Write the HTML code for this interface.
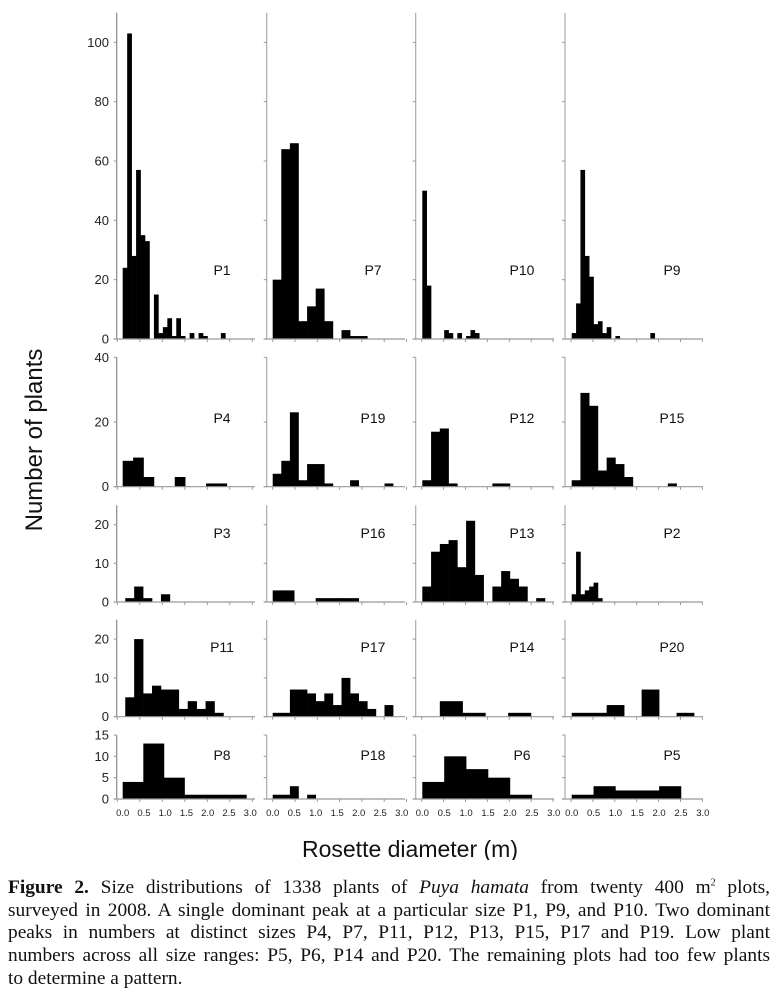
<!DOCTYPE html>
<html><head><meta charset="utf-8"><style>
html,body{margin:0;padding:0;background:#fff;}
body{width:776px;height:1001px;position:relative;overflow:hidden;}
#chart{position:absolute;left:0;top:0;}
#caption{position:absolute;left:8px;top:877px;width:762px;font-family:"Liberation Serif",serif;font-size:19.4px;line-height:22.7px;color:#111;}
#caption .ln{text-align:justify;text-align-last:justify;white-space:nowrap;}
#caption .last{text-align:left;text-align-last:left;}
</style></head><body>
<svg id="chart" width="776" height="860" xmlns="http://www.w3.org/2000/svg" font-family="Liberation Sans, sans-serif"></svg>
<div id="caption">
<div class="ln"><b>Figure 2.</b> Size distributions of 1338 plants of <i>Puya hamata</i> from twenty 400 m<sup style="font-size:10px;line-height:0">2</sup> plots,</div>
<div class="ln">surveyed in 2008. A single dominant peak at a particular size P1, P9, and P10. Two dominant</div>
<div class="ln">peaks in numbers at distinct sizes P4, P7, P11, P12, P13, P15, P17 and P19. Low plant</div>
<div class="ln">numbers across all size ranges: P5, P6, P14 and P20. The remaining plots had too few plants</div>
<div class="ln last">to determine a pattern.</div>
</div>
<script>
// panel names (row-major, 4 columns)
const panelNames = ["P1","P7","P10","P9","P4","P19","P12","P15","P3","P16","P13","P2","P11","P17","P14","P20","P8","P18","P6","P5"];
// counts per bin
const cP1 = [24,103,28,57,35,33,0,15,2,4,7,1,7,1,0,2,0,2,1,0,0,0,2];
const cP7 = [20,64,66,6,11,17,6,0,3,1,1];
const cP10 = [50,18,0,0,0,3,2,0,2,0,1,3,2];
const cP9 = [2,12,57,28,21,5,6,2,4,0,1,0,0,0,0,0,0,0,2];
const cP4 = [8,9,3,0,0,3,0,0,1,1];
const cP19 = [4,8,23,2,7,7,1,0,0,2,0,0,0,1];
const cP12 = [2,17,18,1,0,0,0,0,1,1];
const cP15 = [2,29,25,5,9,7,3,0,0,0,0,1];
const cP3 = [1,4,1,0,2];
const cP16 = [3,0,1,1];
const cP13 = [4,13,15,16,9,21,7,0,4,8,6,4,0,1];
const cP2 = [2,13,2,3,4,5,1];
const cP11 = [5,20,6,8,7,7,2,4,2,4,1];
const cP17 = [1,1,7,7,6,4,6,3,10,6,4,2,0,3];
const cP14 = [4,1,0,1];
const cP20 = [1,1,3,0,7,0,1];
const cP8 = [4,13,5,1,1,1];
const cP18 = [1,1,3,0,1];
const cP6 = [4,10,7,5,1];
const cP5 = [1,3,2,2,3];
const panelCounts = [cP1,cP7,cP10,cP9,cP4,cP19,cP12,cP15,cP3,cP16,cP13,cP2,cP11,cP17,cP14,cP20,cP8,cP18,cP6,cP5];
// bin start (m) and bin width (m)
const binStart = [0,0,0,0, 0,0,0,0, 0.06,0,0,0, 0.06,0,0.4,0, 0,0,0,0];
const binWidth = [0.105,0.2,0.1,0.1, 0.245,0.2,0.2,0.2, 0.21,0.5,0.2,0.1, 0.21,0.2,0.52,0.4, 0.485,0.2,0.5,0.5];
// y-axis ticks per row
const rowTicks = [[0,20,40,60,80,100],[0,20,40],[0,10,20],[0,10,20],[0,5,10,15]];
const rowMax = [110,40,25,25,15];
const xTickLabels = ["0.0","0.5","1.0","1.5","2.0","2.5","3.0"];
const xTickValues = [0,0.5,1,1.5,2,2.5,3];

// layout
const colAxisX=[116.7,266.7,415.7,565], colX0=[122.7,272.7,422.3,571.7], colScale=[42.5,43,43.8,43.7], colRight=[255,405,554,703];
const tickStepPx=[22.5,22.3,21.9,21.9];
const rowBottom=[339,486.7,602,716.7,799], rowTop=[12.7,357.3,505.3,619.7,735];
const labelCx=[222,373,522,672], labelCy=[270,418,533,647,755];
const NS="http://www.w3.org/2000/svg";
const svg=document.getElementById('chart');
function mk(tag,attrs,parent){const e=document.createElementNS(NS,tag);for(const k in attrs)e.setAttribute(k,attrs[k]);(parent||svg).appendChild(e);return e;}

for(let p=0;p<20;p++){
  const r=Math.floor(p/4), c=p%4;
  const g=mk('g',{});
  
  
  const yS=v=>rowBottom[r]-v*(rowBottom[r]-rowTop[r])/rowMax[r];
  const xS=v=>colX0[c]+v*colScale[c];
  const counts=panelCounts[p];
  for(let i=0;i<counts.length;i++){
    if(!counts[i])continue;
    const x1=xS(binStart[p]+i*binWidth[p]), x2=xS(binStart[p]+(i+1)*binWidth[p]);
    const b=mk('rect',{x:x1,y:yS(counts[i]),width:x2-x1+0.3,height:rowBottom[r]-yS(counts[i]),fill:'#000'},g);
    
    
  }
  const ya=mk('line',{x1:colAxisX[c],y1:rowTop[r],x2:colAxisX[c],y2:rowBottom[r],stroke:c===0?'#888':'#aaa','stroke-width':1.2},g);
  
  
  rowTicks[r].forEach(t=>{
    mk('line',{x1:colAxisX[c]-3,y1:yS(t),x2:colAxisX[c],y2:yS(t),stroke:'#999','stroke-width':1},g);
    if(c===0){
      const tl=mk('text',{x:109,y:yS(t)+4.5,'text-anchor':'end','font-size':13,fill:'#222'},g);
      tl.textContent=t;
      
      
    }
  });
  const xa=mk('line',{x1:colAxisX[c]-3,y1:rowBottom[r],x2:colRight[c],y2:rowBottom[r],stroke:'#999','stroke-width':1.2},g);
  
  
  xTickValues.forEach((v,k)=>{
    const tx=colAxisX[c]+(c===0?0.6:6)+k*tickStepPx[c];
    mk('line',{x1:tx,y1:rowBottom[r],x2:tx,y2:rowBottom[r]+3,stroke:'#999','stroke-width':1},g);
    if(r===4){
      const xl=mk('text',{x:xS(v),y:816,'text-anchor':'middle','font-size':9.5,fill:'#222'},g);
      xl.textContent=xTickLabels[k];
      
      
    }
  });
  const pl=mk('text',{x:labelCx[c],y:labelCy[r]+5,'text-anchor':'middle','font-size':14,fill:'#111'},g);
  pl.textContent=panelNames[p];
  
  
}
const yt=mk('text',{x:0,y:0,transform:'translate(42,440) rotate(-90)','text-anchor':'middle','font-size':24,fill:'#111'});
yt.textContent='Number of plants';


const xt=mk('text',{x:410,y:857,'text-anchor':'middle','font-size':23,fill:'#111'});
xt.textContent='Rosette diameter (m)';


</script>
</body></html>
